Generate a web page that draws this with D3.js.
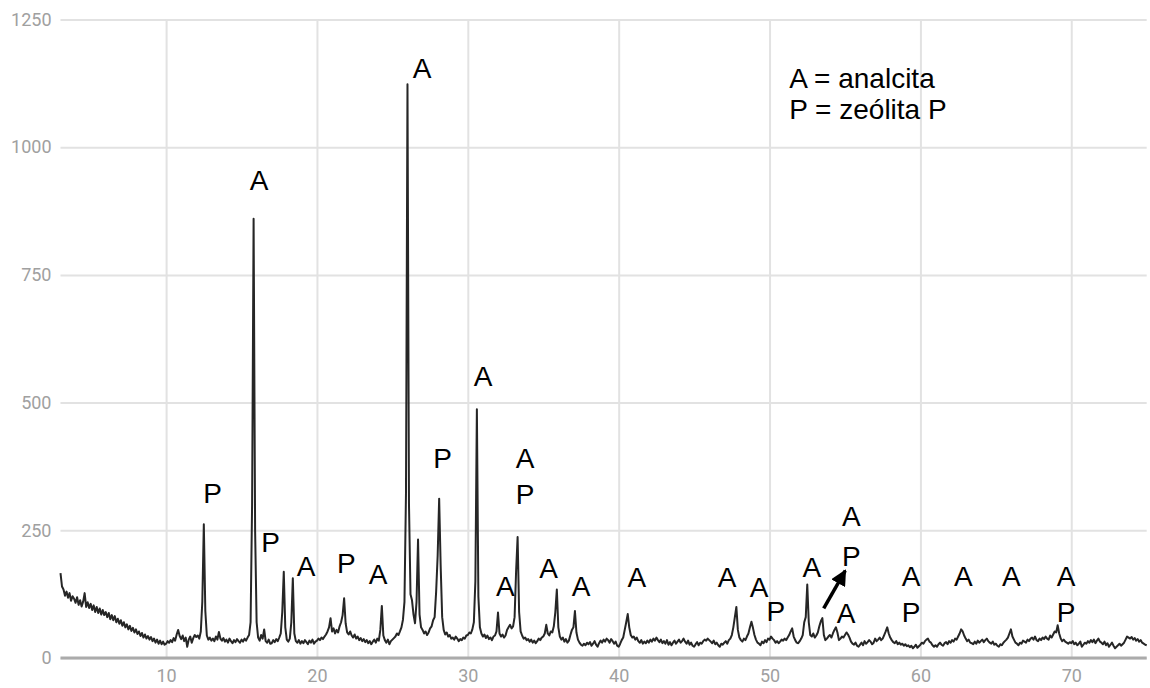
<!DOCTYPE html>
<html>
<head>
<meta charset="utf-8">
<script src="https://cdn.jsdelivr.net/npm/d3@7"></script>
<style>
  html, body { margin: 0; padding: 0; background: #fff; }
  svg { display: block; }
</style>
</head>
<body>
<div id="chart"></div>
<script>
// ===== Data =====
// counts every 0.1 deg 2-theta, starting at 3.0
const scanStart = 3.0;
const scanStep = 0.1;

const countsLow = [ // 3.0 - 20.9
  166, 140, 134, 122, 130, 118, 127, 112, 121, 116,
  108, 119, 104, 113, 101, 110, 127, 100, 109, 98,
  106, 94, 103, 90, 100, 88, 97, 85, 94, 84,
  90, 80, 88, 76, 84, 74, 82, 70, 77, 67,
  74, 63, 70, 60, 66, 56, 63, 53, 59, 50,
  56, 47, 52, 43, 49, 40, 46, 38, 43, 36,
  41, 33, 38, 30, 36, 28, 34, 27, 32, 26,
  28, 33, 30, 35, 31, 39, 34, 46, 55, 43,
  37, 44, 33, 40, 22, 36, 42, 30, 39, 45,
  41, 44, 38, 52, 110, 262, 92, 44, 36, 40,
  34, 38, 33, 42, 36, 51, 38, 34, 39, 32,
  36, 30, 38, 33, 29, 35, 31, 37, 33, 30,
  36, 32, 38, 34, 40, 45, 70, 300, 860, 250,
  70, 40, 34, 45, 38, 56, 33, 30, 36, 28,
  29, 35, 31, 37, 33, 40, 48, 90, 169, 60,
  36, 32, 38, 70, 156, 48, 33, 30, 35, 28,
  33, 29, 35, 31, 27, 34, 30, 36, 28, 32,
  34, 38, 35, 40, 37, 42, 46, 52, 60, 78
];

const countsMid = [ // 21.0 - 40.9
  52, 58, 48, 55, 50, 62, 70, 84, 117, 68,
  50, 46, 52, 44, 40, 46, 38, 42, 35, 39,
  33, 37, 31, 35, 29, 33, 27, 32, 36, 30,
  38, 34, 55, 102, 44, 35, 30, 36, 27, 33,
  36, 39, 42, 48, 45, 52, 60, 75, 110, 320,
  1123, 300, 125, 113, 85, 68, 110, 232, 85, 60,
  55, 48, 52, 45, 50, 58, 62, 74, 80, 130,
  200, 312, 180, 80, 55, 46, 50, 42, 45, 38,
  40, 36, 42, 38, 33, 37, 35, 40, 38, 44,
  45, 50, 48, 56, 70, 150, 487, 120, 60, 48,
  42, 46, 39, 44, 37, 40, 35, 42, 44, 52,
  89, 48, 42, 46, 40, 44, 55, 60, 65, 58,
  62, 80, 170, 237, 90, 52, 44, 38, 40, 35,
  37, 32, 36, 30, 34, 29, 33, 38, 35, 40,
  42, 48, 65, 48, 44, 52, 50, 62, 90, 134,
  60, 42, 36, 40, 32, 37, 30, 34, 45, 55,
  60, 92, 50, 36, 30, 26, 24, 28, 25, 30,
  27, 31, 24, 28, 33, 26, 22, 29, 34, 30,
  36, 32, 38, 35, 30, 37, 33, 28, 32, 24,
  22, 28, 35, 40, 55, 70, 86, 60, 45, 40
];

const countsHigh = [ // 41.0 - 75.0
  42, 36, 40, 33, 30, 35, 28, 32, 29, 34,
  30, 36, 32, 38, 34, 40, 35, 31, 36, 29,
  33, 28, 35, 26, 31, 25, 30, 34, 28, 32,
  36, 30, 33, 38, 32, 28, 34, 26, 30, 24,
  22, 27, 31, 25, 30, 28, 33, 36, 34, 38,
  35, 32, 29, 34, 27, 30, 25, 22, 28, 26,
  30, 33, 28, 35, 38, 45, 60, 80, 100, 55,
  40, 35, 32, 38, 35, 42, 48, 60, 71, 59,
  45, 36, 30, 28, 25, 32, 29, 35, 31, 38,
  36, 42, 38, 35, 30, 33, 29, 32, 36, 34,
  38, 35, 40, 45, 52, 58, 42, 35, 30, 29,
  33, 38, 45, 70, 80, 144, 70, 45, 42, 48,
  40, 44, 50, 62, 72, 78, 45, 35, 38, 42,
  45, 40, 48, 55, 60, 50, 35, 38, 42, 40,
  45, 50, 46, 40, 32, 28, 26, 30, 24, 22,
  26, 30, 25, 33, 28, 31, 35, 32, 27, 30,
  38, 33, 36, 40, 35, 38, 45, 52, 60, 48,
  40, 35, 31, 29, 33, 27, 30, 26, 28, 24,
  27, 23, 25, 21, 24, 19, 22, 26, 20, 23,
  26, 30, 28, 33, 36, 38, 32, 30, 25, 22,
  25, 22, 27, 30, 26, 24, 29, 31, 27, 33,
  30, 35, 32, 38, 36, 42, 48, 56, 52, 44,
  38, 33, 36, 30, 29, 27, 32, 28, 34, 30,
  33, 36, 31, 35, 38, 33, 30, 28, 32, 26,
  28, 24, 22, 27, 25, 30, 33, 36, 40, 48,
  56, 42, 36, 30, 28, 25, 30, 28, 34, 32,
  30, 36, 33, 38, 40, 36, 42, 35, 33, 38,
  35, 40, 37, 42, 38, 36, 44, 40, 46, 52,
  50, 64, 48, 38, 33, 36, 32, 30, 28, 31,
  29, 33, 27, 30, 25, 28, 32, 22, 26, 30,
  28, 33, 30, 35, 31, 36, 29, 34, 38, 32,
  30, 27, 32, 25, 29, 22, 26, 30, 24, 19,
  22, 25, 28, 24, 27, 30, 36, 42, 40, 38,
  41, 36, 39, 34, 37, 32, 35, 30, 28, 26,
  25
];

const xTicks = [10, 20, 30, 40, 50, 60, 70];
const yTicks = [0, 250, 500, 750, 1000, 1250];

// phase labels: [2-theta of centre, counts at baseline, text]
const phaseLabels = [
  [13.08, 303, 'P'],
  [16.17, 917, 'A'],
  [16.93, 208, 'P'],
  [19.28, 160, 'A'],
  [21.95, 167, 'P'],
  [24.06, 145, 'A'],
  [26.97, 1136, 'A'],
  [28.33, 372, 'P'],
  [31.02, 532, 'A'],
  [32.48, 121, 'A'],
  [33.80, 372, 'A'],
  [33.80, 301, 'P'],
  [35.36, 157, 'A'],
  [37.51, 121, 'A'],
  [41.21, 139, 'A'],
  [47.19, 139, 'A'],
  [49.30, 120, 'A'],
  [50.41, 73, 'P'],
  [52.81, 158, 'A'],
  [55.42, 258, 'A'],
  [55.42, 180, 'P'],
  [55.07, 68, 'A'],
  [59.39, 141, 'A'],
  [59.39, 71, 'P'],
  [62.84, 141, 'A'],
  [66.02, 141, 'A'],
  [69.65, 141, 'A'],
  [69.65, 71, 'P']
];

const arrowFrom = [53.59, 97];
const arrowTo = [55.02, 171];

const legendLines = ['A = analcita', 'P = zeólita P'];
const legendAnchor = [51.3, 1115];
const legendStep = 59; // counts between the two legend lines

// ===== Drawing =====
const W = 1150, H = 688;
const plotLeft = 60.5, plotRight = 1146.7, plotTop = 19.5, plotBottom = 658;

const counts = countsLow.concat(countsMid, countsHigh);
const pattern = counts.map((c, i) => ({ theta: +(scanStart + i * scanStep).toFixed(1), c }));

const x = d3.scaleLinear().domain([3, 75]).range([plotLeft, plotRight]);
const y = d3.scaleLinear().domain([0, 1250]).range([plotBottom, plotTop]);

const svg = d3.select('#chart')
  .append('svg')
  .attr('width', W)
  .attr('height', H);

// horizontal grid + y labels
svg.append('g')
  .attr('transform', `translate(${plotLeft},0)`)
  .call(d3.axisLeft(y)
    .tickValues(yTicks)
    .tickFormat(d3.format('d'))
    .tickSize(-(plotRight - plotLeft))
    .tickPadding(9))
  .call(g => g.select('.domain').remove())
  .call(g => g.selectAll('.tick line').attr('stroke', '#e2e2e2').attr('stroke-width', 2))
  .call(g => g.selectAll('.tick text')
    .attr('fill', '#a0a0a0')
    .style('font-family', 'Roboto, sans-serif')
    .style('font-size', '18px'));

// vertical grid + x labels
svg.append('g')
  .attr('transform', `translate(0,${plotBottom})`)
  .call(d3.axisBottom(x)
    .tickValues(xTicks)
    .tickFormat(d3.format('d'))
    .tickSize(-(plotBottom - plotTop))
    .tickPadding(11))
  .call(g => g.select('.domain').remove())
  .call(g => g.selectAll('.tick line').attr('stroke', '#e2e2e2').attr('stroke-width', 2))
  .call(g => g.selectAll('.tick text')
    .attr('fill', '#a0a0a0')
    .style('font-family', 'Roboto, sans-serif')
    .style('font-size', '18px'));

// zero baseline
svg.append('line')
  .attr('x1', plotLeft)
  .attr('x2', plotRight)
  .attr('y1', y(0))
  .attr('y2', y(0))
  .attr('stroke', '#ababab')
  .attr('stroke-width', 3);

// diffractogram
const line = d3.line()
  .x(d => x(d.theta))
  .y(d => y(d.c));

svg.append('path')
  .datum(pattern)
  .attr('fill', 'none')
  .attr('stroke', '#262626')
  .attr('stroke-width', 2)
  .attr('stroke-linejoin', 'round')
  .attr('d', line);

// phase labels
svg.append('g')
  .selectAll('text')
  .data(phaseLabels)
  .enter().append('text')
  .attr('x', d => x(d[0]))
  .attr('y', d => y(d[1]))
  .attr('text-anchor', 'middle')
  .style('font-family', 'Arial, "Liberation Sans", sans-serif')
  .style('font-size', '28px')
  .attr('fill', '#000')
  .text(d => d[2]);

// arrow pointing at the hidden P reflection
svg.append('defs')
  .append('marker')
  .attr('id', 'head')
  .attr('viewBox', '0 0 10 10')
  .attr('refX', 9)
  .attr('refY', 5)
  .attr('markerUnits', 'userSpaceOnUse')
  .attr('markerWidth', 16)
  .attr('markerHeight', 16)
  .attr('orient', 'auto')
  .append('path')
  .attr('d', 'M0,0 L10,5 L0,10 Z')
  .attr('fill', '#000');

svg.append('line')
  .attr('x1', x(arrowFrom[0]))
  .attr('y1', y(arrowFrom[1]))
  .attr('x2', x(arrowTo[0]))
  .attr('y2', y(arrowTo[1]))
  .attr('stroke', '#000')
  .attr('stroke-width', 3.5)
  .attr('marker-end', 'url(#head)');

// legend
svg.append('g')
  .selectAll('text')
  .data(legendLines)
  .enter().append('text')
  .attr('x', x(legendAnchor[0]))
  .attr('y', (d, i) => y(legendAnchor[1] - i * legendStep))
  .style('font-family', 'Arial, "Liberation Sans", sans-serif')
  .style('font-size', '28px')
  .attr('fill', '#000')
  .text(d => d);
</script>
</body>
</html>
